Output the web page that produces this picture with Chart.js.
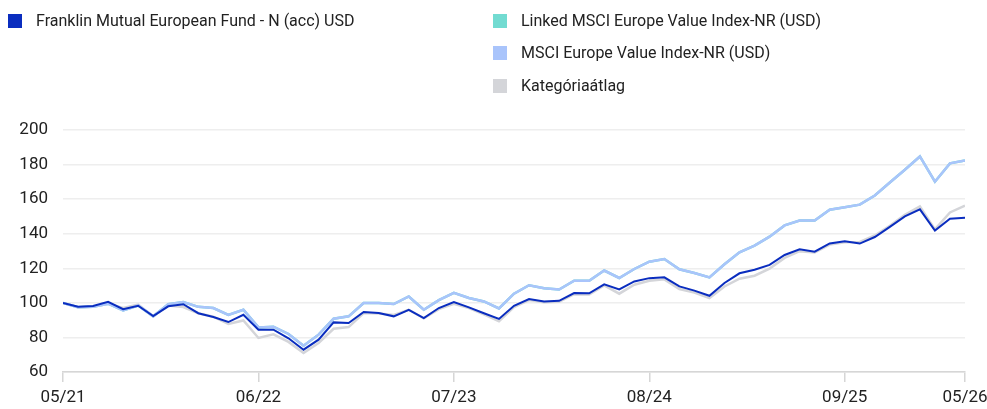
<!DOCTYPE html>
<html>
<head>
<meta charset="utf-8">
<script src="https://cdn.jsdelivr.net/npm/chart.js@4.4.1/dist/chart.umd.min.js"></script>
<style>
  html, body { margin: 0; padding: 0; background: #fff; }
  #wrap { position: relative; width: 987px; height: 409px; overflow: hidden; }
  #c { position: absolute; left: 0; top: 0; }
  .lg { position: absolute; display: flex; align-items: center; font-family: Roboto, "Noto Sans", sans-serif; font-size: 16px; color: #222; white-space: nowrap; }
  .sw { width: 14px; height: 14px; margin-right: 14px; }
</style>
</head>
<body>
<div id="wrap">
  <canvas id="c" width="987" height="409"></canvas>
  <div id="legend"></div>
</div>
<script>
// ---- data ----
const tickIndexes = [0, 13, 26, 39, 52, 60];
const tickLabels = ["05/21", "06/22", "07/23", "08/24", "09/25", "05/26"];

const fundLabel = "Franklin Mutual European Fund - N (acc) USD";
const linkedLabel = "Linked MSCI Europe Value Index-NR (USD)";
const indexLabel = "MSCI Europe Value Index-NR (USD)";
const catLabel = "Kategóriaátlag";

const fundValues = [100, 97.8, 98.2, 100.6, 96.3, 98.3, 92.3, 98, 99.2, 94, 91.8, 88.9, 93.1, 84.5, 84.5, 79.5, 72.9, 78.7, 88.7, 88.3, 94.7, 94.1, 92.2, 96, 91.2, 97, 100.5, 97.4, 94, 90.7, 98.3, 102.2, 100.8, 101.2, 105.7, 105.5, 110.7, 107.8, 112.4, 114.3, 114.8, 109.5, 107.1, 104.1, 111.5, 117.1, 119.2, 122, 127.7, 131, 129.6, 134.4, 135.7, 134.3, 138.1, 144, 150, 154.1, 141.8, 148.7, 149.3];
const indexValues = [100, 97.5, 97.8, 99.5, 95.6, 98.5, 92.2, 99.3, 100.5, 97.7, 97, 93, 96, 85.8, 86.2, 82, 75.2, 81.6, 90.8, 92.2, 99.9, 99.9, 99.3, 103.7, 96, 101.6, 105.8, 102.8, 100.8, 96.8, 105.3, 110.2, 108.5, 107.7, 112.8, 112.8, 118.7, 114.4, 119.6, 123.8, 125.4, 119.4, 117.3, 114.7, 122.3, 129.2, 133.1, 138.3, 144.8, 147.6, 147.6, 153.9, 155.3, 156.8, 162.1, 169.6, 177, 184.7, 170.1, 180.7, 182.4];
const linkedValues = indexValues;
const catValues = [100, 97.4, 97.8, 99.5, 97, 99, 92.2, 98.5, 97.6, 94, 92, 87.8, 89.8, 79.7, 81.8, 77.4, 71, 76.8, 85, 86, 94.1, 93.8, 93, 96, 91, 96.4, 99.5, 97, 93.3, 89.3, 97.5, 101.6, 100.3, 100.6, 105, 104.9, 110.1, 105.3, 110.5, 112.8, 113.6, 108, 106, 102.8, 109.5, 114, 115.7, 119.8, 126, 129.9, 129.2, 133.7, 135.1, 135.2, 139, 144.6, 151, 155.8, 142.5, 152.3, 156.2];

// ---- build ----
const toPts = arr => arr.map((v, i) => ({ x: i, y: v }));
const colors = { fund: "#0a2dbf", linked: "#72dbd1", index: "#a9c4fb", cat: "#d4d5d9" };

const datasets = [
  { label: fundLabel, data: toPts(fundValues), borderColor: colors.fund, backgroundColor: colors.fund, borderWidth: 2, order: 0 },
  { label: linkedLabel, data: toPts(linkedValues), borderColor: colors.linked, backgroundColor: colors.linked, borderWidth: 2.5, order: 3 },
  { label: indexLabel, data: toPts(indexValues), borderColor: colors.index, backgroundColor: colors.index, borderWidth: 2.5, order: 1 },
  { label: catLabel, data: toPts(catValues), borderColor: colors.cat, backgroundColor: colors.cat, borderWidth: 2.5, order: 2 }
];
datasets.forEach(d => { d.pointRadius = 0; d.tension = 0; d.fill = false; });

// HTML legend (two columns)
const legendPos = [
  { ds: 0, left: 8, top: 11 },
  { ds: 1, left: 493, top: 11 },
  { ds: 2, left: 493, top: 43 },
  { ds: 3, left: 493, top: 76 }
];
const lg = document.getElementById("legend");
legendPos.forEach(p => {
  const d = datasets[p.ds];
  const el = document.createElement("div");
  el.className = "lg";
  el.style.left = p.left + "px";
  el.style.top = p.top + "px";
  el.innerHTML = '<div class="sw" style="background:' + d.borderColor + '"></div><span></span>';
  el.querySelector("span").textContent = d.label;
  lg.appendChild(el);
});

const tickFont = { family: "Roboto, 'Noto Sans', sans-serif", size: 17 };

new Chart(document.getElementById("c"), {
  type: "line",
  data: { datasets },
  options: {
    responsive: false,
    animation: false,
    layout: { padding: { top: 130, left: 0, right: 0, bottom: 0 } },
    plugins: { legend: { display: false }, tooltip: { enabled: false } },
    scales: {
      x: {
        type: "linear",
        min: 0,
        max: 60,
        afterBuildTicks: axis => { axis.ticks = tickIndexes.map(v => ({ value: v })); },
        afterFit: axis => { axis.height = 37; axis.paddingRight = 22; axis.paddingLeft = 0; },
        ticks: {
          autoSkip: false,
          maxRotation: 0,
          padding: 6,
          color: "#222",
          font: tickFont,
          callback: v => tickLabels[tickIndexes.indexOf(v)]
        },
        grid: { drawOnChartArea: false, drawTicks: true, tickLength: 10, color: "#d6d6d6", lineWidth: 1.5 },
        border: { display: true, color: "#d6d6d6", width: 1.5 }
      },
      y: {
        min: 60,
        max: 200,
        afterFit: axis => { axis.width = 63; },
        ticks: { stepSize: 20, padding: 15, color: "#222", font: tickFont },
        grid: { color: "#eeeeee", lineWidth: 1.5, drawTicks: false },
        border: { display: false }
      }
    }
  }
});
</script>
</body>
</html>
